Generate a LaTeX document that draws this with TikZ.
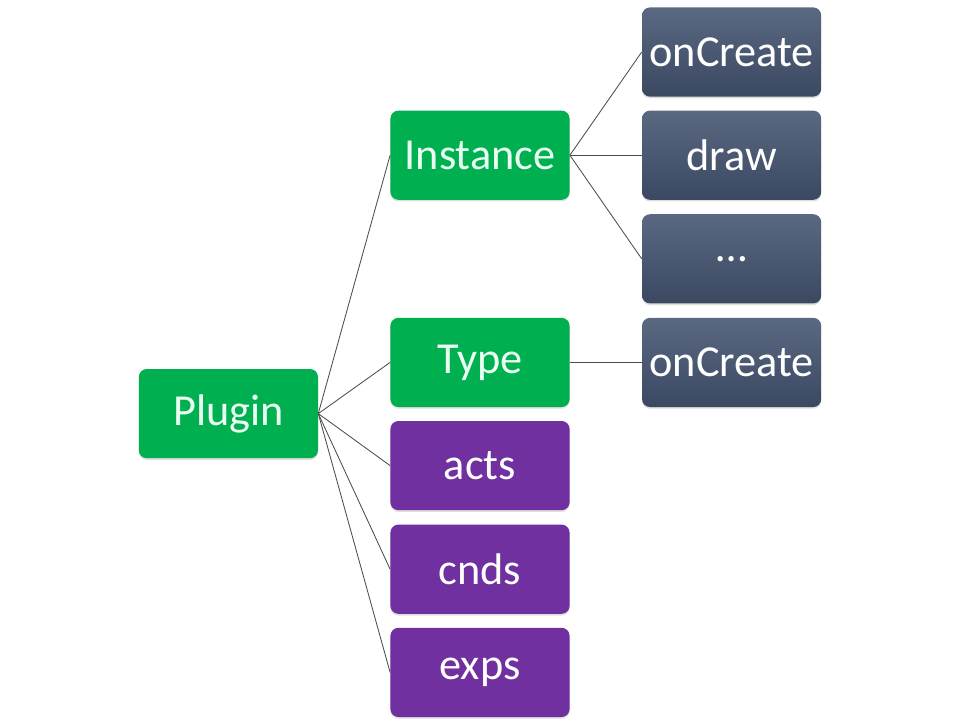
\documentclass[tikz,border=0pt]{standalone}
\usepackage{fontspec}
\setmainfont{Carlito}
\usepackage{tikz}
\usetikzlibrary{positioning,shadows}
\definecolor{leafgreen}{RGB}{0,176,80}
\definecolor{leafpurple}{RGB}{112,48,160}
\definecolor{slatetop}{RGB}{90,104,130}
\definecolor{slatebot}{RGB}{58,72,98}
\definecolor{mintext}{RGB}{232,255,242}
\tikzset{
  box/.style={rectangle, rounded corners=0.2cm, minimum width=4.48cm, minimum height=2.23cm,
    inner sep=0pt, font=\fontsize{31.5}{36}\selectfont,
    drop shadow={shadow xshift=0pt, shadow yshift=-1.2pt, opacity=0.25}},
  greenbox/.style={box, fill=leafgreen, text=mintext},
  purplebox/.style={box, fill=leafpurple, text=white},
  slatebox/.style={box, top color=slatetop, bottom color=slatebot, text=white},
  link/.style={line width=0.6pt, black!70},
}

\begin{document}
\begin{tikzpicture}
    \useasboundingbox (0,0) rectangle (24,-18);
    % root
    \node[greenbox] (plugin) at (5.71,-10.34) {Plugin};
    % second level
    \node[greenbox] (instance) at (12,-3.88) {Instance};
    \node[greenbox] (type) at (12,-9.06) {Type};
    \node[purplebox] (acts) at (12,-11.64) {acts};
    \node[purplebox] (cnds) at (12,-14.23) {cnds};
    \node[purplebox] (exps) at (12,-16.81) {exps};
    % third level
    \node[slatebox] (inst-create) at (18.29,-1.3) {onCreate};
    \node[slatebox] (inst-draw) at (18.29,-3.88) {draw};
    \node[slatebox] (inst-more) at (18.29,-6.47) {…};
    \node[slatebox] (type-create) at (18.29,-9.06) {onCreate};
    % links
    \foreach \n in {instance, type, acts, cnds, exps} { \draw[link] (plugin.east) -- (\n.west); }
    \foreach \n in {inst-create, inst-draw, inst-more} { \draw[link] (instance.east) -- (\n.west); }
    \draw[link] (type.east) -- (type-create.west);
\end{tikzpicture}
\end{document}
